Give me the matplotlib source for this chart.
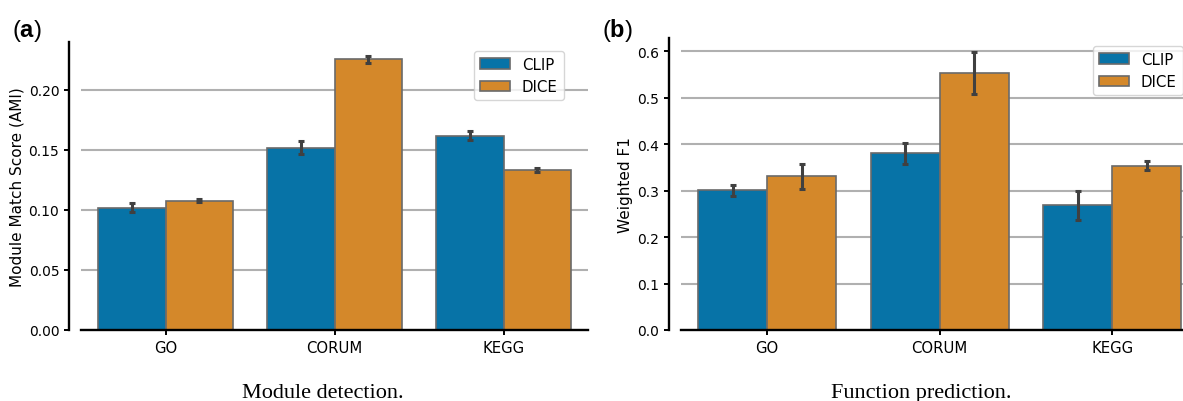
import matplotlib
matplotlib.use("Agg")
import matplotlib.pyplot as plt
import numpy as np

categories = ["GO", "CORUM", "KEGG"]
methods = ["CLIP", "DICE"]

# Module detection (AMI)
ami_clip = [0.102, 0.152, 0.162]
ami_dice = [0.1075, 0.2255, 0.1335]
ami_clip_lo = [0.0986, 0.1467, 0.1586]
ami_clip_hi = [0.1056, 0.1572, 0.1656]
ami_dice_lo = [0.1063, 0.2225, 0.1317]
ami_dice_hi = [0.1090, 0.2280, 0.1353]

# Function prediction (weighted F1)
f1_clip = [0.301, 0.3806, 0.268]
f1_dice = [0.3305, 0.5527, 0.3527]
f1_clip_lo = [0.289, 0.358, 0.237]
f1_clip_hi = [0.311, 0.402, 0.299]
f1_dice_lo = [0.304, 0.5068, 0.3434]
f1_dice_hi = [0.3577, 0.5986, 0.3627]

ami_yticks = [0.00, 0.05, 0.10, 0.15, 0.20]
f1_yticks = [0.0, 0.1, 0.2, 0.3, 0.4, 0.5, 0.6]

colors = ["#0773a7", "#d4882a"]
edge = "#6a6a6a"
errc = "#404040"

W, H = 1183, 402
dpi = 100
fig = plt.figure(figsize=(W / dpi, H / dpi), dpi=dpi)
plt.rcParams["font.family"] = ["DejaVu Sans"]
plt.rcParams["mathtext.fontset"] = "custom"
plt.rcParams["mathtext.bf"] = "Liberation Sans:bold"
plt.rcParams["mathtext.rm"] = "Liberation Sans"


def px_rect(l, r, top, bottom):
    return [l / W, (H - bottom) / H, (r - l) / W, (bottom - top) / H]


def draw(ax, vals, los, his, ylim, yticks, yfmt, ylabel, leg_x, leg_y):
    x = np.arange(len(categories))
    bw = 0.4
    for i, (v, lo, hi) in enumerate(zip(vals, los, his)):
        pos = x - bw / 2 + i * bw
        ax.bar(pos, v, width=bw, color=colors[i], edgecolor=edge,
               linewidth=1.2, label=methods[i], zorder=2)
        v = np.array(v); lo = np.array(lo); hi = np.array(hi)
        ax.errorbar(pos, v, yerr=[v - lo, hi - v], fmt="none", ecolor=errc,
                    elinewidth=2.2, capsize=2.5, capthick=2.2, zorder=3)
    ax.set_xlim(-0.5, 2.5)
    ax.set_ylim(*ylim)
    ax.set_xticks(x)
    ax.set_xticklabels(categories, fontsize=10.7)
    ax.set_yticks(yticks)
    ax.set_yticklabels([yfmt.format(t) for t in yticks], fontsize=8.8)
    ax.yaxis.grid(True, color="#b0b0b0", linewidth=1.5, zorder=0)
    ax.set_axisbelow(True)
    for s in ["top", "right"]:
        ax.spines[s].set_visible(False)
    ax.spines["left"].set_position(("outward", 12 * 72 / dpi))
    ax.spines["left"].set_linewidth(1.7)
    ax.spines["bottom"].set_linewidth(1.7)
    ax.tick_params(axis="both", width=1.4, length=3.5, color="black")
    ax.set_ylabel(ylabel, fontsize=11, labelpad=3)
    leg = ax.legend(loc="upper left", bbox_to_anchor=(leg_x, leg_y),
                    borderaxespad=0, fontsize=10.8, frameon=True, fancybox=True)
    leg.get_frame().set_edgecolor("#cccccc")
    leg.get_frame().set_linewidth(1.0)


ax1 = fig.add_axes(px_rect(81, 588, 43, 331))
draw(ax1, [ami_clip, ami_dice], [ami_clip_lo, ami_dice_lo],
     [ami_clip_hi, ami_dice_hi], (0, 0.24), ami_yticks, "{:.2f}",
     "Module Match Score (AMI)", 0.775, 0.969)

ax2 = fig.add_axes(px_rect(681, 681 + 517.5, 39, 331))
draw(ax2, [f1_clip, f1_dice], [f1_clip_lo, f1_dice_lo],
     [f1_clip_hi, f1_dice_hi], (0, 0.628), f1_yticks, "{:.1f}",
     "Weighted F1", 0.796, 0.973)

fig.text(12 / W, (H - 37) / H, r"($\mathbf{a}$)", fontsize=17,
         family="Liberation Sans", va="baseline", ha="left")
fig.text(602 / W, (H - 37) / H, r"($\mathbf{b}$)", fontsize=17,
         family="Liberation Sans", va="baseline", ha="left")

fig.text(323 / W, (H - 398) / H, "Module detection.", fontsize=16,
         family="Liberation Serif", va="baseline", ha="center")
fig.text(921 / W, (H - 398) / H, "Function prediction.", fontsize=16,
         family="Liberation Serif", va="baseline", ha="center")

fig.savefig("out.png", dpi=dpi)
